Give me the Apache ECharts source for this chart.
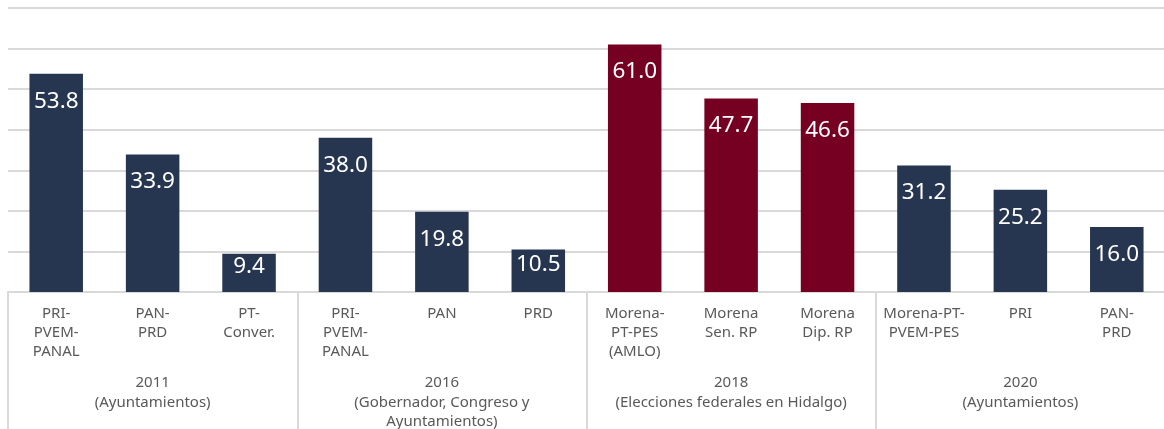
<!DOCTYPE html>
<html><head><meta charset="utf-8">
<script src="https://cdn.jsdelivr.net/npm/echarts@6/dist/echarts.min.js"></script>
<style>html,body{margin:0;padding:0;background:#fff}#c{width:1164px;height:429px}</style>
</head><body><div id="c"></div>
<script>
const categories = ['PRI-\nPVEM-\nPANAL','PAN-\nPRD','PT-\nConver.','PRI-\nPVEM-\nPANAL','PAN','PRD','Morena-\nPT-PES\n(AMLO)','Morena\nSen. RP','Morena\nDip. RP','Morena-PT-\nPVEM-PES','PRI','PAN-\nPRD'];
const values = [53.8, 33.9, 9.4, 38.0, 19.8, 10.5, 61.0, 47.7, 46.6, 31.2, 25.2, 16.0];
const groups = ['2011\n(Ayuntamientos)','2016\n(Gobernador, Congreso y\nAyuntamientos)','2018\n(Elecciones federales en Hidalgo)','2020\n(Ayuntamientos)'];
const groupOfBar = [0,0,0,1,1,1,2,2,2,3,3,3];
const highlightedGroup = 2;
const yTicks = [0,10,20,30,40,50,60,70];

const NAVY = '#263550', MAROON = '#760021', GRID = '#d9d9d9', TXT = '#595959';
const PLOT_H = 429 - 8 - 137;
const yMax = yTicks[yTicks.length-1];
function labelDist(v){
  const h = v / yMax * PLOT_H;
  return Math.max(1, Math.min(16, 0.55*h - 19.5));
}
const chart = echarts.init(document.getElementById('c'), null, {renderer:'canvas'});
chart.setOption({
  animation:false,
  grid:{left:8,right:-1,top:8,bottom:137,containLabel:false,outerBoundsMode:'none'},
  xAxis:[{
    type:'category', data:categories, position:'bottom',
    axisLine:{show:true,lineStyle:{color:GRID,width:2}},
    axisTick:{show:false},
    axisLabel:{interval:0,color:TXT,fontFamily:'Noto Sans',fontSize:15,lineHeight:19.2,margin:12}
  },{
    type:'category', data:groups, position:'bottom', gridIndex:0,
    axisLine:{show:false},
    axisTick:{show:true,length:140,lineStyle:{color:GRID,width:2}},
    axisLabel:{interval:0,color:TXT,fontFamily:'Noto Sans',fontSize:15,lineHeight:19.5,margin:81}
  }],
  yAxis:{type:'value',min:yTicks[0],max:yMax,interval:10,
    axisLabel:{show:false},axisLine:{show:false},axisTick:{show:false},
    splitLine:{lineStyle:{color:GRID,width:2}}},
  series:[{
    type:'bar', xAxisIndex:0, barWidth:'55.5%',
    data:values.map((v,i)=>({value:v,
      itemStyle:{color:groupOfBar[i]===highlightedGroup?MAROON:NAVY},
      label:{distance:labelDist(v)}})),
    label:{show:true,position:'insideTop',color:'#fff',fontFamily:'Noto Sans',fontSize:22.5,
      formatter:p=>p.value.toFixed(1)}
  }]
});
</script></body></html>
